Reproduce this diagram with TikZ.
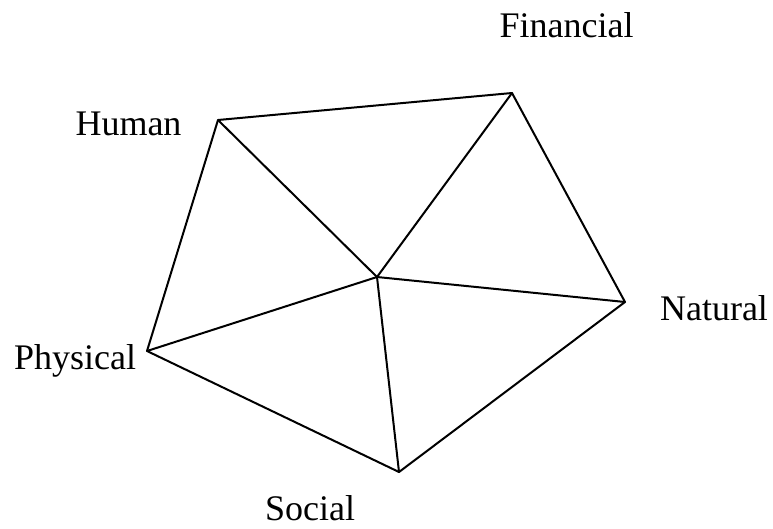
\documentclass[tikz,border=0pt]{standalone}
\usepackage{fontspec}
\setmainfont{Liberation Serif}
\begin{document}
\begin{tikzpicture}[x=1pt,y=-1pt,
  edge/.style={line width=2pt,line join=round,line cap=round},
  lbl/.style={font=\fontsize{36}{40}\selectfont,inner sep=0pt,anchor=base}]
\useasboundingbox (0,0) rectangle (773,528);
\coordinate (H) at (218,120);
\coordinate (F) at (512,93);
\coordinate (N) at (625,302);
\coordinate (S) at (399,472);
\coordinate (P) at (147,351);
\coordinate (C) at (377,277);
\draw[edge] (H) -- (F) -- (N) -- (S) -- (P) -- cycle;
\draw[edge] (H) -- (C);
\draw[edge] (F) -- (C);
\draw[edge] (N) -- (C);
\draw[edge] (S) -- (C);
\draw[edge] (P) -- (C);
\node[lbl] (lF) at (566.5,37) {Financial};
\node[lbl] (lH) at (128.5,135) {Human};
\node[lbl] (lN) at (714,320) {Natural};
\node[lbl] (lP) at (75,369) {Physical};
\node[lbl] (lS) at (310,520) {Social};
\end{tikzpicture}
\end{document}
